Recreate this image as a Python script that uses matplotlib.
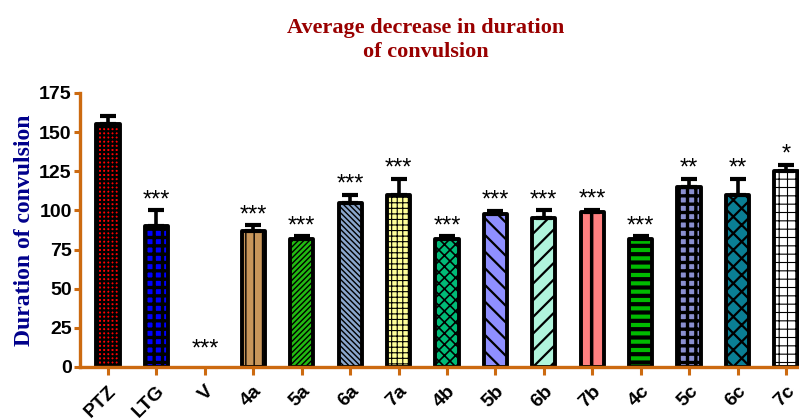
import matplotlib
matplotlib.use("Agg")
import matplotlib.pyplot as plt
import numpy as np

categories = ["PTZ", "LTG", "V", "4a", "5a", "6a", "7a", "4b", "5b", "6b", "7b", "4c", "5c", "6c", "7c"]
values = [155, 90, 0, 87, 81.5, 105, 110, 81.5, 97.5, 95, 99, 81.5, 115, 110, 125]
errors = [5, 10, 0, 3.5, 2, 5, 10, 2, 2, 5, 1.5, 2, 5, 10, 4]
significance = ["", "***", "***", "***", "***", "***", "***", "***", "***", "***", "***", "***", "**", "**", "*"]
colors = ["#ff0000", "#0000ff", "#ffffff", "#c8965a", "#22bb11", "#8aa6cc", "#ffff99", "#00bb77",
          "#8f8fff", "#b0f5dc", "#ff8080", "#00bb00", "#8a8fd0", "#0a7f95", "#ffffff"]
hatches = ["++++", "++", "", "||", "//////", "\\\\\\\\\\\\", "+++", "xxx", "\\\\", "//", "|", "--", "++", "xx", "++"]
hatch_lw = [1.6, 2.4, 1.0, 1.0, 1.0, 1.0, 0.8, 1.2, 1.6, 1.6, 2.5, 3.0, 2.4, 1.6, 0.8]

axis_color = "#cc6a10"

fig = plt.figure(figsize=(7.99, 4.2), dpi=100)
ax = fig.add_axes([0.1001, 0.1262, 0.8999, 0.6524])

x = np.arange(len(categories))
for i in range(len(categories)):
    if values[i] <= 0:
        continue
    with plt.rc_context({"hatch.linewidth": hatch_lw[i], "hatch.color": "black"}):
        b = ax.bar(x[i], values[i], width=0.48, color=colors[i], edgecolor="black",
                   linewidth=2.8, hatch=hatches[i] if hatches[i] else None, zorder=2)
        for p in b:
            if hasattr(p, "set_hatch_linewidth"):
                p.set_hatch_linewidth(hatch_lw[i])
            p.set_joinstyle("round")

mask = np.array(values) > 0
ax.errorbar(x[mask], np.array(values)[mask],
            yerr=[np.zeros(mask.sum()), np.array(errors)[mask]], fmt="none", ecolor="black",
            elinewidth=2.6, capsize=6, capthick=3.0, zorder=3)

for i in range(len(categories)):
    if significance[i]:
        ytxt = values[i] + errors[i] - 0.5
        if values[i] == 0:
            ytxt = 4
        ax.text(x[i], ytxt, significance[i], ha="center", va="bottom",
                fontsize=17, family="Liberation Sans", color="black")

ax.set_xlim(-0.58, 14.27)
ax.set_ylim(0, 175)
ax.set_yticks(np.arange(0, 176, 25))
ax.set_xticks(x)
ax.set_xticklabels(categories, rotation=45, ha="right", va="top", rotation_mode="anchor",
                   fontsize=14, fontweight="bold", family="Liberation Sans")
for lab in ax.get_yticklabels():
    lab.set_fontsize(14)
    lab.set_fontweight("bold")
    lab.set_family("Liberation Sans")

for s in ["top", "right"]:
    ax.spines[s].set_visible(False)
for s in ["left", "bottom"]:
    ax.spines[s].set_color(axis_color)
    ax.spines[s].set_linewidth(2.4)
ax.tick_params(axis="both", colors=axis_color, width=2.2, labelcolor="black")
ax.tick_params(axis="y", length=4, pad=2)
ax.tick_params(axis="x", length=6, pad=5)

ax.set_ylabel("Duration of convulsion", fontsize=17, fontweight="bold", family="Liberation Serif",
              color="#00008b", labelpad=3)

fig.text(0.533, 0.905, "Average decrease in duration\nof convulsion", ha="center", va="center",
         fontsize=16, fontweight="bold", family="Liberation Serif", color="#990000",
         linespacing=1.3)

fig.savefig("out.png", dpi=100)
